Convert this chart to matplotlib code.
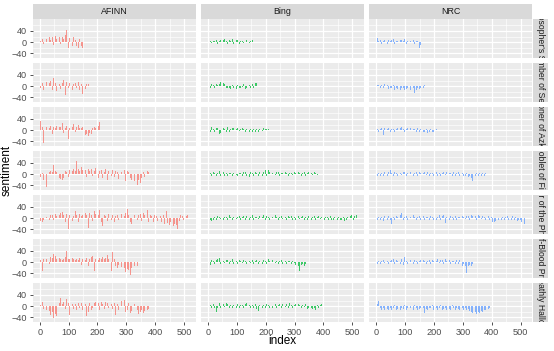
import numpy as np
import matplotlib
matplotlib.use("Agg")
import matplotlib.pyplot as plt

plt.rcParams['font.family'] = ['Liberation Sans', 'DejaVu Sans']

books = ["Philosopher's Stone", "Chamber of Secrets", "Prisoner of Azkaban",
         "Goblet of Fire", "Order of the Phoenix", "Half-Blood Prince",
         "Deathly Hallows"]
lexicons = ["AFINN", "Bing", "NRC"]
x_ticks = [0, 100, 200, 300, 400, 500]
y_ticks = [-40, 0, 40]
chunk = 5  # index units represented by each value

afinn = [
    [5, 12, -8, 15, 10, -30, 18, 8, 20, -10, 22, 12, 15, 20, -8, 18, 10, 25, 43, -22, 15, 10, -12, 20, 8, -15, -22, 10, -12, -20, 30],
    [-5, 10, -12, 8, 15, -10, 12, 20, -15, 28, 10, -18, 14, 8, -10, 12, 22, -32, 15, -8, 10, 12, -14, 6, 10, -8, 14, -12, 8, -26, 10, -10, 6, 8],
    [32, 10, -47, -30, 12, -10, 8, 15, -12, 10, 6, 14, -8, 10, 12, 24, -10, 8, 15, -32, 6, 10, 12, 22, -8, 10, 18, 8, 6, 10, -15, -18, -12, -20, -10, -14, 8, 12, 6, 20, 15, 30],
    [-10, 5, -20, 8, -45, -12, 6, 10, 8, 34, 12, 8, 10, -15, -18, -22, -15, 12, 8, -10,
     15, -35, 10, 20, 12, 48, 18, 10, 25, 14, 32, 15, -10, 20, 12, 18, -8, 10, 22, 8,
     -15, 10, 14, -12, 8, 18, -20, 10, 12, -8, 14, -10, 12, 8, -18, 10, 6, -12, 15, -25,
     10, 8, -15, -20, 34, -25, -18, -39, -22, -30, -12, 8, -10, 6, 10, 8],
    [-10, -15, -8, -12, 5, 8, -6, 10, 12, -8, 14, 8, -10, 12, 18, 22, 10, -12, 15, -39,
     12, 20, -10, 8, 24, 10, -14, 15, 6, 12, -8, 18, 10, -33, 20, 12, -10, 25, 14, 35,
     10, 28, -15, -27, 12, 8, -10, 14, 6, -8, 10, -12, 8, 12, -6, 10, 14, -10, 8, 18,
     31, 10, -15, -20, -33, 12, 8, -6, 10, 14, -10, 20, 12, 8, 28, -12, 10, 6, -14, 10,
     8, -10, 12, 6, -12, 10, -20, 26, -18, -25, -15, -22, -28, -20, -25, -39, -10, 12, 8, -8,
     10, 6, 12],
    [8, -30, 12, 15, 10, 18, -8, 20, 14, 30, 22, 12, -10, 15, 10, 8, 12, 18, 38, 12,
     10, -8, 14, 10, 6, 12, 8, 16, -10, 10, 12, 8, 14, -12, 10, 18, 22, -30, 12, 10,
     8, 14, 10, 20, 12, 15, 25, 10, 18, -30, 36, 12, -15, -22, -10, -25, -18, -30, -20, -35,
     -25, -28, -47, -20, -35, -15, -30, -12],
    [5, 15, -10, 8, -15, -25, -18, -30, -20, -42, -28, -35, 10, 12, 30, 8, 15, -10, 27, 10,
     -32, -12, 8, -10, 6, -15, 10, -8, 12, -14, -10, 8, -35, -22, 10, -15, -8, 12, 15, 22,
     10, -12, 14, 8, -10, 15, 10, -8, 12, 6, -10, 12, -30, 8, -15, 10, 18, -12, 22, -20,
     -15, 10, -25, -18, 15, 8, -22, -15, -28, -20, -12, -25, -18, -32, -15, -10],
]

bing = [
    [2, 4, -3, 5, 3, 6, -6, 4, 8, -4, 6, 10, 5, -8, 8, 4, 10, -6, -14, 6, 8, -5, 4, 3, -3, 2, 6, 8, -4, 5, 8],
    [5, -8, 6, 3, -5, 8, 4, 6, 16, -18, 10, 6, -6, -8, -5, -10, 4, -7, -6, -9, 5, -8, -6, -4, 6, -10, -5, -8, 4, -6, 8, -5, 10, 13],
    [4, -6, 10, 5, -8, 6, 8, -15, -10, 6, 8, 5, -5, 10, -8, 4, 8, 6, -6, 5, 8, -4, 4, 6, 3, -5, 4, 6, -6, 3, -5, 4, -6, 5, -8, 3, 5, -4, 6, 4, 3, 5],
    [-6, 4, -5, 6, 3, -8, 5, 10, -6, 4, 6, -5, 4, -8, 5, 3, -6, 4, 5, -4,
     -8, 5, 4, -6, 6, 8, -5, 4, -10, 6, 5, -6, 8, 4, -8, 6, 10, -5, 8, 15,
     -6, 14, 8, -10, 5, 6, -4, 8, 6, -8, 5, 4, -5, 6, 3, -6, 5, 4, -4, 6,
     4, -5, 6, 3, -6, 4, 8, -5, 4, 6, -6, 4, -4, 6, 5, -3],
    [-8, -6, -10, -5, 4, -6, 8, 5, -4, 6, -6, 4, 5, -5, 10, 4, -6, 5, 8, -4,
     5, 6, -6, 4, 8, -5, 6, 3, -8, 5, 10, -6, 4, 5, -4, 6, -8, 4, 12, -5,
     6, 4, -6, 8, 3, -5, 10, 4, -6, 5, 6, -4, 5, 3, -6, 8, 4, 6, -5, 4,
     -6, 5, 8, -4, 3, 6, -5, 4, -8, 6, 5, -6, 4, 8, -5, 3, 6, -4, 5, 10,
     -6, 4, 5, -8, 6, -6, -8, 4, -6, -5, 5, -8, -6, 4, -10, -6, 5, -4, 8, 10,
     -5, 6, 12],
    [-15, -10, 8, 4, -6, 6, 10, 15, -8, 6, 5, -4, 8, 6, -6, 4, 10, -5, 6, 4,
     -8, 6, 5, -4, 8, 3, -6, 10, 5, -4, 6, -5, 4, 8, -6, 5, 3, -8, 6, 4,
     -5, 10, 4, -6, 6, 8, -4, 5, -6, 4, 8, -5, 6, 4, -8, 5, 3, -6, 4, -4,
     -10, -8, -12, -30, -10, -8, -12, -6],
    [-4, 5, -6, 8, -8, -20, -6, 10, -5, 6, 8, -4, 12, 6, -6, 5, -8, 4, 6, -5,
     8, -6, 5, 4, -8, 6, 10, -5, 4, -6, 5, -8, 6, -10, -18, 4, 6, -8, 5, -6,
     8, 4, -6, 5, -5, 10, 6, -8, 4, 6, -6, 8, 5, -4, 6, -8, 10, 4, -6, 5,
     6, -5, 8, 4, -6, 5, -4, 6, -10, -8, -12, -6, -10, -8, -12, 4, -6, 5, 6],
]

nrc = [
    [15, 5, 8, -6, 4, 6, 10, -5, 8, 4, 6, 12, -8, 5, 4, -10, 6, 8, 4, 10, -6, 5, 12, 4, -5, 6, -8, 5, 4, -22, -10],
    [5, 3, -6, 4, -8, 6, -5, 3, -10, -6, -8, 4, -12, -8, -10, -6, -14, -8, -5, -12, -10, -6, -8, -15, -10, -8, -23, -12, -6, -10, -8, 5, -6, 4],
    [5, -6, 4, 8, -18, 6, -5, 4, 6, -8, 5, 3, -6, 4, 8, -5, 6, 10, 4, -6, 5, 8, -4, 6, -8, 5, 4, -6, 8, -5, 4, 6, -8, -5, 4, -10, -6, 5, -8, -6, -20, 4],
    [-6, 4, -8, 5, -5, 6, 4, -6, 8, 15, 5, -6, 8, 4, -8, 6, 5, -4, 8, 6,
     -5, 4, -20, 6, 5, -8, 4, 6, -5, 8, 4, -6, 5, 8, -4, 6, -8, 5, 4, -6,
     6, 8, -5, 4, -6, 5, 8, -4, 6, -8, 5, 4, -6, 8, -5, 4, 6, -8, -6, 5,
     -8, -6, 4, -10, -8, -12, -25, -10, -8, 4, -6, 5, -8, 4, -6, 3],
    [-6, 4, -8, 5, -10, 6, 4, -5, 8, -6, -20, 5, -6, 8, 4, -8, 10, 20, -6, 5,
     8, -5, 6, 4, -8, 10, 5, -6, 4, 8, -5, 12, 6, -8, 4, 5, -6, 8, 4, -5,
     6, -8, 4, 10, -5, 6, 12, -18, 5, 4, -6, 8, 4, -5, 6, -8, 5, 4, -6, 8,
     5, -4, 6, 8, -6, 10, 6, 15, 8, -5, 12, 6, -4, 8, 5, -6, 4, 6, -8, 5,
     -12, -15, -10, -14, -8, 4, -6, 5, -8, 4, 6, -5, 4, -8, 6, -6, 5, -10, -8, -6,
     -12, -8, -22],
    [-5, 4, -6, 5, 8, -4, 6, 5, -8, 4, 6, 10, -5, 8, 4, 6, -6, 12, -10, 18,
     5, -6, -15, 8, 4, -5, 6, 4, -6, 5, 8, -4, 6, 5, -6, 4, 8, -5, 6, 4,
     -6, 5, 10, -4, 6, 8, -5, 12, 4, -6, 6, -8, 5, 4, -6, 8, -5, 6, -10, -12,
     -8, -15, -40, -12, -10, -14, -8, -6],
    [6, 18, -8, -12, -6, -15, -40, -10, -12, -6, -15, -8, 5, -12, -10, -6, -14, -8, -10, 4,
     -12, -8, -15, -6, -10, -12, 5, -8, -14, -10, -6, -12, -8, -25, -10, -15, -6, -8, 4, -12,
     -10, -6, -14, -8, 5, -12, -10, -6, -15, -8, -10, -12, 4, -8, -14, -6, -10, -12, -8, -5,
     -12, -8, -15, -10, -18, -22, -25, -30, -20, -28, -22, -25, -18, -20, -15, -12, -8, -10, -6],
]

colors = ["#F8766D", "#00BA38", "#619CFF"]
series = [afinn, bing, nrc]

W, H = 554, 351
fig = plt.figure(figsize=(W / 100, H / 100), dpi=100)

def add_axes_px(x0, y0, w, h):
    return fig.add_axes([x0 / W, 1 - (y0 + h) / H, w / W, h / H])

left0, top0 = 32.5, 19.3
pw, ph = 163.3, 39.0
gapx, gapy = 5.0, 5.0
strip_h, strip_w = 15.0, 15.0

for c, lex in enumerate(lexicons):
    x0 = left0 + c * (pw + gapx)
    sax = add_axes_px(x0, top0 - strip_h, pw, strip_h)
    sax.set_facecolor("#D9D9D9")
    sax.set_xticks([]); sax.set_yticks([])
    for s in sax.spines.values():
        s.set_visible(False)
    sax.text(0.5, 0.5, lex, ha="center", va="center", fontsize=6.4,
             color="#1A1A1A", transform=sax.transAxes)

for r, book in enumerate(books):
    y0 = top0 + r * (ph + gapy)
    for c in range(3):
        x0 = left0 + c * (pw + gapx)
        ax = add_axes_px(x0, y0, pw, ph)
        ax.set_facecolor("#EBEBEB")
        vals = np.array(series[c][r], dtype=float)
        xs = np.arange(len(vals)) * chunk + chunk / 2 + 1
        ax.bar(xs, vals, width=chunk * 0.6, color=colors[c], alpha=0.75,
               linewidth=0, zorder=3)
        ax.set_xlim(-25, 541)
        ax.set_ylim(-57, 81)
        ax.set_xticks(x_ticks)
        ax.set_xticks([50, 150, 250, 350, 450], minor=True)
        ax.set_yticks(y_ticks)
        ax.set_yticks([-20, 20, 60], minor=True)
        ax.grid(which="major", color="white", linewidth=0.9, zorder=1)
        ax.grid(which="minor", color="white", linewidth=0.45, zorder=1)
        ax.set_axisbelow(True)
        for s in ax.spines.values():
            s.set_visible(False)
        ax.tick_params(which="minor", length=0)
        ax.tick_params(which="major", length=2.5, width=0.6, color="#333333",
                       labelsize=6.6, labelcolor="#4D4D4D", pad=1.5)
        if c != 0:
            ax.tick_params(axis="y", which="major", length=0, labelleft=False)
        if r != len(books) - 1:
            ax.tick_params(axis="x", which="major", length=0, labelbottom=False)
    # right strip
    rax = add_axes_px(left0 + 3 * pw + 2 * gapx + 0.5, y0, strip_w, ph)
    rax.set_facecolor("#D9D9D9")
    rax.set_xticks([]); rax.set_yticks([])
    for s in rax.spines.values():
        s.set_visible(False)
    rax.text(0.5, 0.5, book, ha="center", va="center", rotation=-90,
             fontsize=6.2, color="#1A1A1A", transform=rax.transAxes, clip_on=True)

fig.text(7 / W, 1 - 170 / H, "sentiment", rotation=90, ha="center", va="center",
         fontsize=8.5, color="#000000")
fig.text(282 / W, 1 - 341 / H, "index", ha="center", va="center",
         fontsize=8.5, color="#000000")

fig.savefig("out.png", dpi=100, facecolor="white")
